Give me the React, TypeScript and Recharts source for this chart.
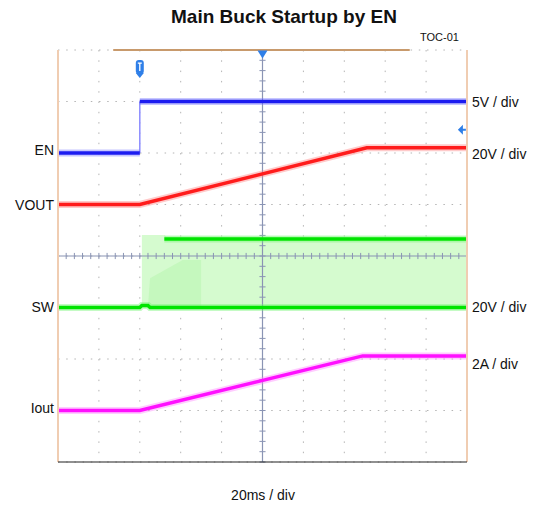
import React from 'react';
import {
  ComposedChart, Line, Area, XAxis, YAxis, CartesianGrid, ReferenceLine, ReferenceDot,
} from 'recharts';

// time in ms (20 ms / div, 10 div), level in screen divisions (8 div, centre = 0)
const enLowTime = [0, 40];
const enLowLevel = [2, 2];
const enHighTime = [40, 200];
const enHighLevel = [3, 3];
const enEdgeTime = [40, 40];
const enEdgeLevel = [2, 3];
const voutTime = [0, 40, 151, 200];
const voutLevel = [1, 1, 2.1, 2.1];
const swLowTime = [0, 40, 41, 42, 44, 45, 200];
const swLowLevel = [-1, -1, -0.96, -0.96, -0.96, -1, -1];
const swHighTime = [52, 200];
const swHighLevel = [0.33, 0.33];
const swBandTime = [41, 52, 53, 200];
const swBandLow = [-1, -1, -1, -1];
const swBandHigh = [0.41, 0.41, 0.38, 0.38];
const swWedgeTime = [44, 45, 61, 70];
const swWedgeLow = [-1, -1, -1, -1];
const swWedgeHigh = [-1, -0.43, -0.08, -0.08];
const ioutTime = [0, 40, 149, 200];
const ioutLevel = [-3, -3, -1.94, -1.94];

const xTicks = [0, 20, 40, 60, 80, 100, 120, 140, 160, 180, 200];
const yTicks = [-4, -3, -2, -1, 0, 1, 2, 3, 4];
const minorX = Array.from({ length: 51 }, (_, i) => i * 4);
const minorY = Array.from({ length: 41 }, (_, i) => -4 + i * 0.2);

const toRows = (t: number[], v: number[]) => t.map((x, i) => ({ t: x, v: v[i] }));
const toBand = (t: number[], lo: number[], hi: number[]) => t.map((x, i) => ({ t: x, v: [lo[i], hi[i]] }));

const traces = [
  { key: 'enlo', rows: toRows(enLowTime, enLowLevel), color: '#1c1cf0', halo: '#7070ff' },
  { key: 'enhi', rows: toRows(enHighTime, enHighLevel), color: '#1c1cf0', halo: '#7070ff' },
  { key: 'vout', rows: toRows(voutTime, voutLevel), color: '#ff1c1c', halo: '#ff7a7a' },
  { key: 'swlo', rows: toRows(swLowTime, swLowLevel), color: '#00e400', halo: '#6cf56c' },
  { key: 'swhi', rows: toRows(swHighTime, swHighLevel), color: '#00e400', halo: '#6cf56c' },
  { key: 'iout', rows: toRows(ioutTime, ioutLevel), color: '#ff10ff', halo: '#ff80ff' },
];

const txt: React.CSSProperties = { position: 'absolute', fontSize: 14, color: '#111', whiteSpace: 'nowrap' };

const TrigMark = (p: any) => (
  <g>
    <rect x={p.cx - 4} y={p.cy - 8} width={8} height={14} rx={3} fill="#2f7fe8" />
    <path d={`M${p.cx - 2},${p.cy - 5} h4 M${p.cx},${p.cy - 5} v8`} stroke="#fff" strokeWidth={1.3} />
    <path d={`M${p.cx - 4},${p.cy + 5} L${p.cx},${p.cy + 10} L${p.cx + 4},${p.cy + 5}Z`} fill="#2f7fe8" />
  </g>
);
const TopMark = (p: any) => (
  <path d={`M${p.cx - 5},${p.cy - 3} L${p.cx + 5},${p.cy - 3} L${p.cx},${p.cy + 5}Z`} fill="#2f7fe8" />
);
const SideMark = (p: any) => (
  <path d={`M${p.cx - 4},${p.cy} L${p.cx + 1},${p.cy - 5} L${p.cx + 1},${p.cy + 5}Z M${p.cx},${p.cy - 1} h4 v2 h-4Z`} fill="#2f7fe8" />
);

const App: React.FC = () => (
  <div style={{ position: 'absolute', left: 0, top: 0, width: 534, height: 510, background: '#fff', fontFamily: '"Liberation Sans", Arial, sans-serif' }}>
    <ComposedChart width={534} height={510} margin={{ top: 50, right: 67, bottom: 48, left: 58 }}>
      <XAxis dataKey="t" type="number" domain={[0, 200]} ticks={xTicks} hide allowDuplicatedCategory={false} />
      <YAxis type="number" domain={[-4, 4]} ticks={yTicks} hide />
      <CartesianGrid horizontal={false} stroke="#b4b4b4" strokeDasharray="1.5 8.8" />
      <CartesianGrid vertical={false} stroke="#b4b4b4" strokeDasharray="1.5 6.7" />

      <ReferenceLine x={100} stroke="#8a94b4" strokeWidth={1.2} />
      <ReferenceLine y={0} stroke="#8a94b4" strokeWidth={1.2} />
      {minorX.map((t) => (
        <ReferenceLine key={`mx${t}`} segment={[{ x: t, y: -0.06 }, { x: t, y: 0.06 }]} stroke="#8a94b4" />
      ))}
      {minorY.map((v, i) => (
        <ReferenceLine key={`my${i}`} segment={[{ x: 98.5, y: v }, { x: 101.5, y: v }]} stroke="#8a94b4" />
      ))}

      <Area data={toBand(swBandTime, swBandLow, swBandHigh)} dataKey="v" type="linear" stroke="none" fill="#d5fbcf" fillOpacity={1} isAnimationActive={false} />
      <Area data={toBand(swWedgeTime, swWedgeLow, swWedgeHigh)} dataKey="v" type="linear" stroke="none" fill="#b2f4a8" fillOpacity={0.45} isAnimationActive={false} />

      <Line data={toRows(enEdgeTime, enEdgeLevel)} dataKey="v" type="linear" stroke="#8c8cff" strokeWidth={1.5} dot={false} isAnimationActive={false} />
      {traces.map((tr) => (
        <Line key={`${tr.key}h`} data={tr.rows} dataKey="v" type="linear" stroke={tr.halo} strokeOpacity={0.4} strokeWidth={7} dot={false} isAnimationActive={false} />
      ))}
      {traces.map((tr) => (
        <Line key={tr.key} data={tr.rows} dataKey="v" type="linear" stroke={tr.color} strokeWidth={3.5} dot={false} isAnimationActive={false} />
      ))}

      <ReferenceLine segment={[{ x: 0, y: 4 }, { x: 0, y: -4 }]} stroke="#f0cdb2" strokeWidth={2} />
      <ReferenceLine segment={[{ x: 200, y: 4 }, { x: 200, y: -4 }]} stroke="#f0cdb2" strokeWidth={2} />
      <ReferenceLine segment={[{ x: 27, y: 4 }, { x: 172, y: 4 }]} stroke="#c89a6c" strokeWidth={2} />
      <ReferenceLine segment={[{ x: 0, y: -4 }, { x: 200, y: -4 }]} stroke="#222" strokeWidth={1.2} />
      <ReferenceLine segment={[{ x: 0, y: -4 }, { x: 0, y: -4.08 }]} stroke="#222" />
      <ReferenceLine segment={[{ x: 200, y: -4 }, { x: 200, y: -4.08 }]} stroke="#222" />

      <ReferenceDot x={40} y={3.65} r={5} shape={TrigMark} />
      <ReferenceDot x={100} y={3.93} r={5} shape={TopMark} />
      <ReferenceDot x={197.5} y={2.45} r={5} shape={SideMark} />
    </ComposedChart>

    <div style={{ ...txt, left: 171, top: 6, fontSize: 19, fontWeight: 'bold' }}>Main Buck Startup by EN</div>
    <div style={{ ...txt, left: 420, top: 31, fontSize: 11 }}>TOC-01</div>

    <div style={{ ...txt, right: 480, top: 142, textAlign: 'right' }}>EN</div>
    <div style={{ ...txt, right: 480, top: 197, textAlign: 'right' }}>VOUT</div>
    <div style={{ ...txt, right: 480, top: 299, textAlign: 'right' }}>SW</div>
    <div style={{ ...txt, right: 480, top: 400, textAlign: 'right' }}>Iout</div>

    <div style={{ ...txt, left: 472, top: 94 }}>5V / div</div>
    <div style={{ ...txt, left: 472, top: 146 }}>20V / div</div>
    <div style={{ ...txt, left: 472, top: 299 }}>20V / div</div>
    <div style={{ ...txt, left: 472, top: 356 }}>2A / div</div>

    <div style={{ ...txt, left: 0, width: 526, top: 487, textAlign: 'center' }}>20ms / div</div>
  </div>
);

export default App;
